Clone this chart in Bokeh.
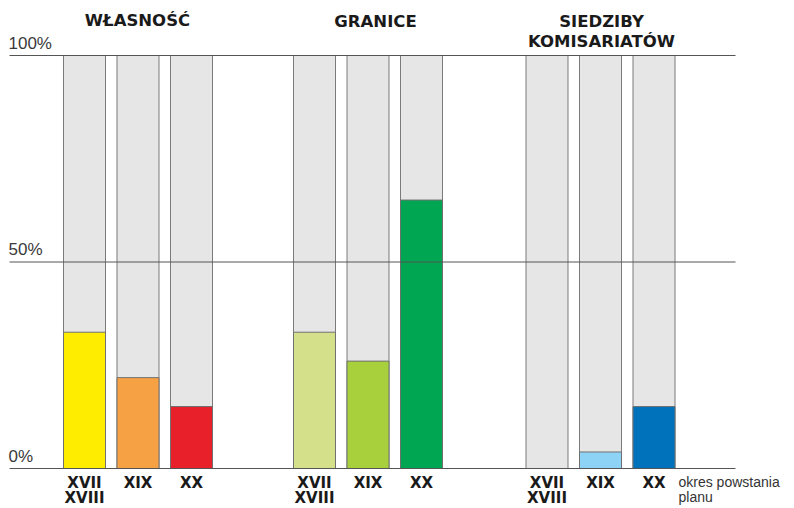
from bokeh.plotting import figure
from bokeh.models import Range1d, ColumnDataSource
from bokeh.core.properties import value
from bokeh.embed import file_html
from bokeh.resources import INLINE

groups = ["WŁASNOŚĆ", "GRANICE", "SIEDZIBY\nKOMISARIATÓW"]
periods = ["XVII\nXVIII", "XIX", "XX"]
values_wlasnosc = [33, 22, 15]
values_granice = [33, 26, 65]
values_siedziby = [0, 4, 15]
colors_wlasnosc = ["#FFED00", "#F7A145", "#E8202A"]
colors_granice = ["#D4E18A", "#A8CF3C", "#00A651"]
colors_siedziby = ["#8DD3F5", "#8DD3F5", "#0072BC"]
y_ticks = [0, 50, 100]
y_tick_labels = ["0%", "50%", "100%"]
axis_note = "okres powstania\nplanu"

W, H = 786, 508
PX = 4.13  # pixels per percent
Y0 = 468   # screen y of 0%

def ydata(py):
    return (Y0 - py) / PX

p = figure(width=W, height=H, output_backend="svg", toolbar_location=None,
           x_range=Range1d(0, W), y_range=Range1d(ydata(H), ydata(0)),
           min_border=0)
p.axis.visible = False
p.grid.visible = False
p.outline_line_color = None
p.background_fill_color = "white"

group_starts = [84, 314, 546.5]
step = 53.5
bw = 42
all_vals = [values_wlasnosc, values_granice, values_siedziby]
all_cols = [colors_wlasnosc, colors_granice, colors_siedziby]

xs, tops, cols = [], [], []
for gi, g in enumerate(groups):
    for bi in range(len(periods)):
        xs.append(group_starts[gi] + bi * step)
        tops.append(all_vals[gi][bi])
        cols.append(all_cols[gi][bi])

p.vbar(x=xs, width=bw, bottom=0, top=100, fill_color="#E6E6E6",
       line_color="#7A7A7A", line_width=1)
src = ColumnDataSource(dict(x=xs, top=tops, color=cols))
p.vbar(x="x", width=bw, bottom=0, top="top", fill_color="color",
       line_color="#707070", line_width=1, source=src)

for t in y_ticks:
    p.line(x=[9, 735], y=[t, t], line_color="#555555", line_width=1)

p.text(x=[8] * 3, y=[t + 0.7 for t in y_ticks], text=y_tick_labels,
       text_font=value("Liberation Sans"), text_font_size="17px",
       text_color="#3a3a3a", text_baseline="bottom", text_align="left")

# group titles
title_x = [137, 375, 601]
title_py = [[20], [20.5], [21, 41]]
for gi, g in enumerate(groups):
    for li, ln in enumerate(g.split("\n")):
        p.text(x=[title_x[gi]], y=[ydata(title_py[gi][li])], text=[ln],
               text_font=value("DejaVu Sans"), text_font_size="16.5px",
               text_font_style="bold", text_color="#1a1a1a",
               text_align="center", text_baseline="middle")

# period labels
lx, ly, lt = [], [], []
for gi in range(len(groups)):
    for bi, per in enumerate(periods):
        for li, ln in enumerate(per.split("\n")):
            lx.append(group_starts[gi] + bi * step)
            ly.append(ydata(482 + li * 15))
            lt.append(ln)
p.text(x=lx, y=ly, text=lt, text_font=value("DejaVu Sans"),
       text_font_size="15px", text_font_style="bold", text_color="#1a1a1a",
       text_align="center", text_baseline="middle")

for li, ln in enumerate(axis_note.split("\n")):
    p.text(x=[678], y=[ydata(481 + li * 15)], text=[ln],
           text_font=value("Liberation Sans"), text_font_size="14px",
           text_color="#333333", text_align="left", text_baseline="middle")

open("out.html", "w").write(file_html(p, INLINE))
